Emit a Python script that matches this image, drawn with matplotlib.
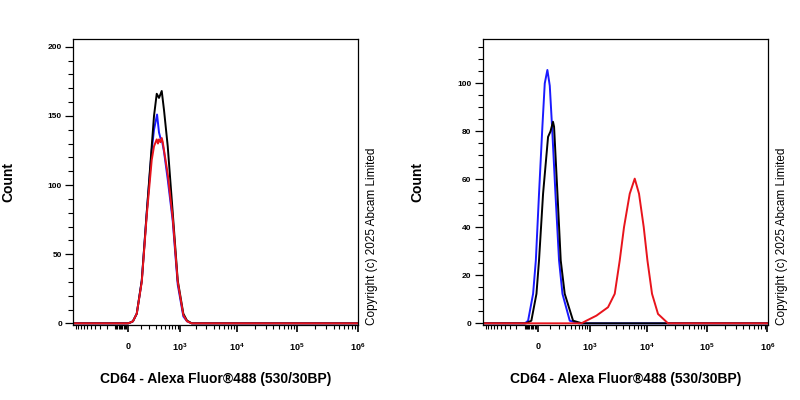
import numpy as np
import matplotlib.pyplot as plt
from matplotlib.ticker import FixedLocator, MultipleLocator

plt.rcParams['font.family'] = ['Liberation Sans', 'DejaVu Sans']
plt.rcParams['mathtext.default'] = 'regular'

# ---- data (fluorescence value, count) ----
# left panel
left_blue_x = [-1140, 0, 12.6, 33, 63, 110, 166, 234, 270, 323, 360, 390, 417, 470, 565, 717, 901, 1153, 1350, 1647, 1.013e6]
left_blue_y = [0, 0, 0.5, 1.5, 7, 31, 80, 125, 140, 151, 138, 134, 133, 124, 104, 74, 28, 5, 1.5, 0, 0]
left_black_x = [-1140, 0, 12.6, 33, 63, 110, 166, 234, 270, 317, 360, 417, 470, 565, 717, 901, 1153, 1350, 1647, 1.013e6]
left_black_y = [0, 0, 0.5, 1.5, 7, 31, 80, 128, 150, 166, 163, 168, 154, 128, 80, 31, 7, 2, 0, 0]
left_red_x = [-1140, 0, 12.6, 33, 63, 110, 166, 234, 270, 317, 340, 360, 390, 417, 440, 470, 565, 717, 901, 1153, 1350, 1647, 1.013e6]
left_red_y = [0, 0, 0.5, 1.5, 7, 30, 78, 118, 128, 133, 130, 133, 131, 134, 131, 125, 108, 76, 30, 6, 1.5, 0, 0]

# right panel
right_blue_x = [-1140, -100, -71, -31, -12, 8, 31, 49, 71, 93, 116, 154, 200, 250, 381, 600, 1.013e6]
right_blue_y = [0, 0, 1.1, 12.3, 26.2, 54, 82, 100, 105.6, 99, 82, 54, 26.2, 12.3, 1.1, 0, 0]
right_black_x = [-1140, -90, -44, -8, 8, 36, 77, 100, 126, 138, 179, 224, 287, 454, 700, 1.013e6]
right_black_y = [0, 0, 1.1, 12.3, 26.2, 54, 77.7, 80, 84, 81.9, 54, 26.2, 12.3, 1.1, 0, 0]
right_red_x = [-1140, 684, 860, 1333, 2163, 2839, 3467, 4111, 5147, 6259, 7400, 8880, 10250, 12240,
               15420, 22640, 1.013e6]
right_red_y = [0, 0, 1.1, 3.2, 6.7, 12.3, 26.2, 40.1, 54, 60.3, 54, 40.1, 26.2, 12.3,
               3.9, 0, 0]

major_ticks = [0, 1e3, 1e4, 1e5, 1e6]
major_labels = ['0', '10$^3$', '10$^4$', '10$^5$', '10$^6$']
xlabel = 'CD64 - Alexa Fluor\u00ae488 (530/30BP)'
copyright_txt = 'Copyright (c) 2025 Abcam Limited'

C = 160.0


def fwd(x):
    x = np.asarray(x, dtype=float)
    return np.sign(x) * np.log10(1 + np.abs(x) / C)


def inv(y):
    y = np.asarray(y, dtype=float)
    return np.sign(y) * C * (10 ** np.abs(y) - 1)


minor = ([-v for v in range(100, 1001, 100)] + [-v for v in range(10, 100, 10)]
         + list(range(100, 1000, 100))
         + [m * 10 ** e for e in (3, 4, 5) for m in range(2, 10)])

fig = plt.figure(figsize=(8, 4), dpi=100)


def make_panel(left, series, ylim, ymajor, yminor):
    ax = fig.add_axes([left / 800, 1 - 325 / 400, 285 / 800, 286 / 400])
    ax.set_xscale('function', functions=(fwd, inv))
    for xs, ys, col in series:
        ax.plot(xs, ys, color=col, lw=1.4, solid_joinstyle='round')
    ax.set_xlim(-1140, 1.013e6)
    ax.set_ylim(*ylim)
    ax.xaxis.set_major_locator(FixedLocator(major_ticks))
    ax.xaxis.set_minor_locator(FixedLocator(minor))
    ax.set_xticklabels(major_labels)
    ax.yaxis.set_major_locator(MultipleLocator(ymajor))
    ax.yaxis.set_minor_locator(MultipleLocator(yminor))
    ax.tick_params(axis='y', which='major', length=6, width=0.9, pad=2,
                   labelsize=6, direction='out')
    ax.tick_params(axis='y', which='minor', length=3.5, width=0.8, direction='out')
    ax.tick_params(axis='x', which='major', length=5, width=1.2, pad=7,
                   labelsize=6.5, direction='out')
    ax.tick_params(axis='x', which='minor', length=3, width=0.8, direction='out')
    for lab in ax.get_yticklabels() + ax.get_xticklabels():
        lab.set_fontweight('bold')
    for sp in ax.spines.values():
        sp.set_linewidth(0.9)
    ax.set_xlabel(xlabel, fontsize=10, fontweight='bold')
    ax.xaxis.set_label_coords(0.5, -0.163)
    ax.set_ylabel('Count', fontsize=10, fontweight='bold')
    ax.yaxis.set_label_coords(-0.203, 0.5)
    ax.text(1.05, 0.0, copyright_txt, transform=ax.transAxes, rotation=90,
            ha='center', va='bottom', fontsize=8.5)
    return ax


make_panel(73, [(left_blue_x, left_blue_y, '#1a1aff'),
                (left_black_x, left_black_y, 'black'),
                (left_red_x, left_red_y, '#e8141c')],
           (-1.2, 205.6), 50, 10)
make_panel(482.7, [(right_blue_x, right_blue_y, '#1a1aff'),
                   (right_black_x, right_black_y, 'black'),
                   (right_red_x, right_red_y, '#e8141c')],
           (-0.7, 118.5), 20, 5)

fig.savefig('out.png', dpi=100)
